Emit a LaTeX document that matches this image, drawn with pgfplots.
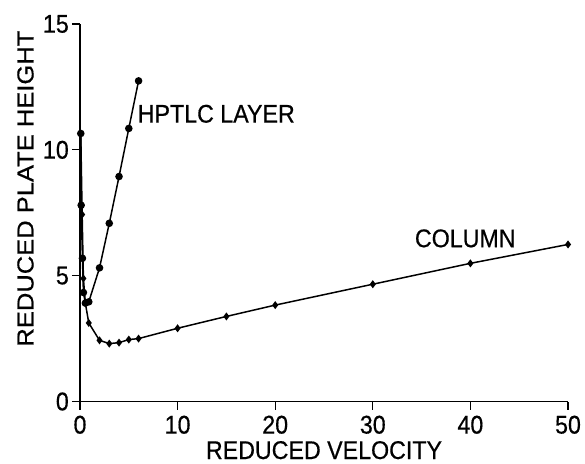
\documentclass[border=0pt]{standalone}
\usepackage{pgfplots}
\pgfplotsset{compat=1.18}
\usepackage{fontspec}
\setmainfont{Liberation Sans}[FakeStretch=0.907,FakeBold=0.5]
\newfontfamily\ylabfont{Liberation Sans}[FakeStretch=1.1,FakeBold=0.5]
\newcommand\lab{\fontsize{25.7}{30}\selectfont}
\begin{document}
\begin{tikzpicture}
\begin{axis}[
  name=ax,
  scale only axis,
  width=488bp, height=377.5bp,
  xmin=0, xmax=50, ymin=0, ymax=15,
  axis x line*=bottom, axis y line*=left,
  axis line style={line width=1.4pt,-},
  xtick={0,10,20,30,40,50}, ytick={0,5,10,15},
  tick align=outside, major tick length=8bp,
  tick style={line width=1.1pt,black},
  minor tick num=0,
  /pgf/number format/assume math mode=true,
  tick label style={font=\lab},
  yticklabel style={inner sep=0pt, xshift=-3bp},
  xticklabel style={inner sep=0pt, yshift=-6bp},
  xlabel={REDUCED VELOCITY},
  ylabel={\ylabfont REDUCED PLATE HEIGHT},
  xlabel style={font=\lab, inner sep=0pt, at={(axis description cs:0.5,0)}, anchor=base, yshift=-57.5bp},
  ylabel style={font=\fontsize{23.3}{28}\selectfont, inner sep=0pt, at={(axis description cs:-0.1117,0.564)}, anchor=center},
  clip=false,
]
\addplot[black, line width=1.5pt, mark=*, mark size=3bp] coordinates {
  (0.08,10.65) (0.12,7.8) (0.25,5.69) (0.35,4.33) (0.55,3.91) (0.9,3.96)
  (2,5.31) (3,7.08) (4,8.94) (5,10.85) (6,12.74)
};
\addplot[black, line width=1.5pt, mark=diamond*, mark size=2.8bp] coordinates {
  (0.08,10.65) (0.22,7.43) (0.35,4.89) (0.55,3.9) (0.9,3.12) (2,2.43) (3,2.3) (4,2.34)
  (5,2.46) (6,2.5) (10,2.91) (15,3.38) (20,3.83) (30,4.66) (40,5.49) (50,6.24)
};
\node[anchor=west, font=\lab, inner sep=0pt] at (axis cs:5.9,11.43) {HPTLC LAYER};
\node[anchor=west, font=\lab, inner sep=0pt] at (axis cs:34.3,6.48) {COLUMN};
\end{axis}
\pgfresetboundingbox
\path ([xshift=-80bp,yshift=-62.5bp]ax.south west) rectangle ([xshift=17bp,yshift=24bp]ax.north east);
\end{tikzpicture}
\end{document}
